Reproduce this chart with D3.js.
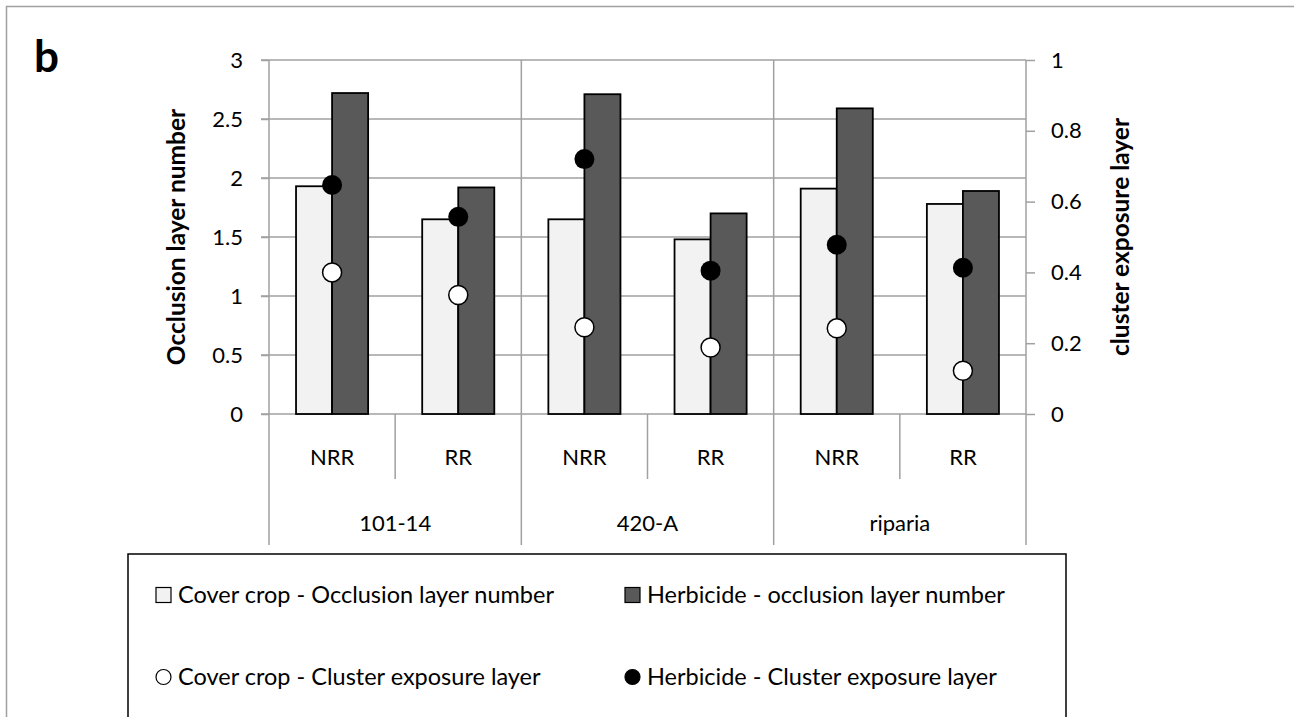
<!DOCTYPE html>
<html>
<head>
<meta charset="utf-8">
<script src="https://cdn.jsdelivr.net/npm/d3@7"></script>
<style>
  body { margin: 0; background: #fff; }
  text { font-family: Lato, "Open Sans", sans-serif; fill: #000; }
</style>
</head>
<body>
<div id="chart"></div>
<script>
// data
var groups = ['101-14', '420-A', 'riparia'];
var subs = ['NRR', 'RR'];
var coverOcc = [1.93, 1.65, 1.65, 1.48, 1.91, 1.78];
var herbOcc = [2.72, 1.92, 2.71, 1.70, 2.59, 1.89];
var coverExp = [0.40, 0.336, 0.245, 0.188, 0.242, 0.122];
var herbExp = [0.647, 0.557, 0.72, 0.405, 0.478, 0.413];
var leftTicks = [0, 0.5, 1, 1.5, 2, 2.5, 3];
var rightTicks = [0, 0.2, 0.4, 0.6, 0.8, 1];
var legendNames = ['Cover crop - Occlusion layer number', 'Herbicide - occlusion layer number',
                   'Cover crop - Cluster exposure layer', 'Herbicide - Cluster exposure layer'];

var W = 1294, H = 717;
var pLeft = 269, pRight = 1026, pTop = 60, pBottom = 414;
var grid = '#a0a0a0';
var fs = 22;

var svg = d3.select('#chart').append('svg')
    .attr('width', W).attr('height', H);

// outer frame (left + top only visible)
svg.append('path')
    .attr('d', 'M6.5,' + H + 'V6.5H' + W)
    .attr('fill', 'none').attr('stroke', grid).attr('stroke-width', 1.5);

svg.append('text').attr('x', 34).attr('y', 72)
    .attr('font-size', 44).attr('font-weight', 'bold').text('b');

var cats = [];
groups.forEach(function(g) { subs.forEach(function(s) { cats.push(g + '|' + s); }); });

var x = d3.scaleBand().domain(cats).range([pLeft, pRight]).padding(0);
var xg = d3.scaleBand().domain(groups).range([pLeft, pRight]).padding(0);
var xi = d3.scaleBand().domain(['cover', 'herb']).range([0, x.bandwidth()])
    .paddingInner(0).paddingOuter(0.75);
var y = d3.scaleLinear().domain([0, 3]).range([pBottom, pTop]);
var y2 = d3.scaleLinear().domain([0, 1]).range([pBottom, pTop]);

// gridlines
svg.append('g').selectAll('line').data(leftTicks).enter().append('line')
    .attr('x1', pLeft - 8).attr('x2', pRight)
    .attr('y1', function(d) { return y(d); }).attr('y2', function(d) { return y(d); })
    .attr('stroke', grid).attr('stroke-width', 1.5);

// left axis
var yAxis = svg.append('g').attr('transform', 'translate(' + pLeft + ',0)')
    .call(d3.axisLeft(y).tickValues(leftTicks).tickSize(8).tickPadding(18)
        .tickFormat(function(d) { return String(d); }));
yAxis.select('.domain').remove();
yAxis.selectAll('line').attr('stroke', grid).attr('stroke-width', 1.5);
yAxis.selectAll('text').attr('font-size', fs).attr('font-family', 'Lato');

// right axis
var y2Axis = svg.append('g').attr('transform', 'translate(' + pRight + ',0)')
    .call(d3.axisRight(y2).tickValues(rightTicks).tickSize(9).tickPadding(16)
        .tickFormat(function(d) { return String(d); }));
y2Axis.select('.domain').remove();
y2Axis.selectAll('line').attr('stroke', grid).attr('stroke-width', 1.5);
y2Axis.selectAll('text').attr('font-size', fs).attr('font-family', 'Lato');

// category axis dividers
var groupEdges = groups.map(function(g) { return xg(g); }).concat([pRight]);
svg.append('g').selectAll('line').data(groupEdges).enter().append('line')
    .attr('x1', function(d) { return d; }).attr('x2', function(d) { return d; })
    .attr('y1', pTop).attr('y2', 545)
    .attr('stroke', grid).attr('stroke-width', 1.5);
svg.append('g').selectAll('line').data(groups).enter().append('line')
    .attr('x1', function(g) { return x(g + '|RR'); }).attr('x2', function(g) { return x(g + '|RR'); })
    .attr('y1', pBottom).attr('y2', 479)
    .attr('stroke', grid).attr('stroke-width', 1.5);

svg.append('g').selectAll('text').data(cats).enter().append('text')
    .attr('x', function(d) { return x(d) + x.bandwidth() / 2; })
    .attr('y', 457).attr('dy', '0.35em').attr('text-anchor', 'middle').attr('font-size', fs)
    .text(function(d) { return d.split('|')[1]; });
svg.append('g').selectAll('text').data(groups).enter().append('text')
    .attr('x', function(d) { return xg(d) + xg.bandwidth() / 2; })
    .attr('y', 523).attr('dy', '0.35em').attr('text-anchor', 'middle').attr('font-size', fs)
    .text(function(d) { return d; });

// bars
var bars = svg.append('g');
bars.selectAll('.cov').data(coverOcc).enter().append('rect')
    .attr('x', function(d, i) { return x(cats[i]) + xi('cover'); })
    .attr('y', function(d) { return y(d); })
    .attr('width', xi.bandwidth()).attr('height', function(d) { return pBottom - y(d); })
    .attr('fill', '#f2f2f2').attr('stroke', '#000').attr('stroke-width', 1.8);
bars.selectAll('.herb').data(herbOcc).enter().append('rect')
    .attr('x', function(d, i) { return x(cats[i]) + xi('herb'); })
    .attr('y', function(d) { return y(d); })
    .attr('width', xi.bandwidth()).attr('height', function(d) { return pBottom - y(d); })
    .attr('fill', '#595959').attr('stroke', '#000').attr('stroke-width', 1.8);

// markers
var cx = function(d, i) { return x(cats[i]) + x.bandwidth() / 2; };
svg.append('g').selectAll('circle').data(coverExp).enter().append('circle')
    .attr('cx', cx).attr('cy', function(d) { return y2(d); }).attr('r', 9.5)
    .attr('fill', '#fff').attr('stroke', '#000').attr('stroke-width', 1.5);
svg.append('g').selectAll('circle').data(herbExp).enter().append('circle')
    .attr('cx', cx).attr('cy', function(d) { return y2(d); }).attr('r', 10)
    .attr('fill', '#000');

// axis titles
svg.append('text')
    .attr('transform', 'translate(176,' + (pTop + pBottom) / 2 + ') rotate(-90)')
    .attr('dy', '0.35em')
    .attr('text-anchor', 'middle').attr('font-size', 24.5).attr('font-weight', 'bold')
    .text('Occlusion layer number');
svg.append('text')
    .attr('transform', 'translate(1120,' + ((pTop + pBottom) / 2 + 0) + ') rotate(-90)')
    .attr('dy', '0.35em')
    .attr('text-anchor', 'middle').attr('font-size', 24.5).attr('font-weight', 'bold')
    .text('cluster exposure layer');

// legend
var lg = svg.append('g');
lg.append('rect').attr('x', 128).attr('y', 554).attr('width', 938).attr('height', 200)
    .attr('fill', 'none').attr('stroke', '#000').attr('stroke-width', 1.5);
var legPos = [[156, 595], [625, 595], [156, 677], [625, 677]];
var legFill = ['#f2f2f2', '#595959', '#fff', '#000'];
legendNames.forEach(function(name, i) {
    var p = legPos[i];
    if (i < 2) {
        lg.append('rect').attr('x', p[0]).attr('y', p[1] - 7.5).attr('width', 15).attr('height', 15)
            .attr('fill', legFill[i]).attr('stroke', '#000').attr('stroke-width', 1.2);
    } else {
        lg.append('circle').attr('cx', p[0] + 7.5).attr('cy', p[1]).attr('r', 7.5)
            .attr('fill', legFill[i]).attr('stroke', '#000').attr('stroke-width', 1.2);
    }
    lg.append('text').attr('x', p[0] + 22).attr('y', p[1]).attr('dy', '0.35em')
        .attr('font-size', 23.5).text(name);
});
</script>
</body>
</html>
